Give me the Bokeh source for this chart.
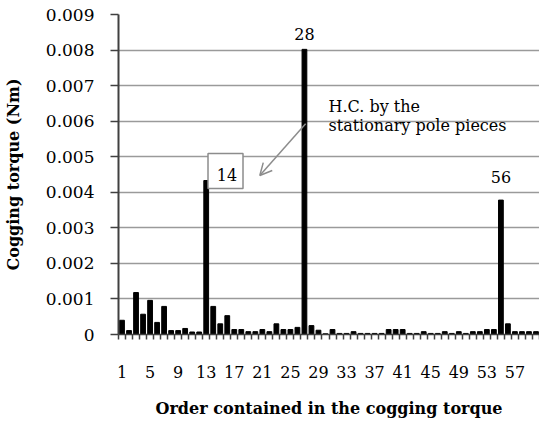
from bokeh.plotting import figure
from bokeh.models import FixedTicker, Range1d, Label, Arrow, OpenHead
from bokeh.embed import file_html
from bokeh.resources import INLINE

# ---- data ----
orders = list(range(1, 61))
torque = [
    0.00040, 0.00011, 0.00118, 0.00057, 0.00096, 0.00034, 0.00079, 0.00011, 0.00011, 0.00017,
    0.00007, 0.00007, 0.00433, 0.00079, 0.00030, 0.00053, 0.00014, 0.00014, 0.00008, 0.00008,
    0.00014, 0.00008, 0.00030, 0.00014, 0.00014, 0.00020, 0.00802, 0.00025, 0.00012, 0.00002,
    0.00014, 0.00003, 0.00003, 0.00008, 0.00003, 0.00003, 0.00003, 0.00003, 0.00014, 0.00014,
    0.00014, 0.00003, 0.00003, 0.00008, 0.00003, 0.00003, 0.00008, 0.00003, 0.00008, 0.00003,
    0.00008, 0.00008, 0.00014, 0.00014, 0.00378, 0.00030, 0.00008, 0.00008, 0.00008, 0.00008,
]
x_tick_values = [1, 5, 9, 13, 17, 21, 25, 29, 33, 37, 41, 45, 49, 53, 57]
x_tick_labels = ["1", "5", "9", "13", "17", "21", "25", "29", "33", "37", "41", "45", "49", "53", "57"]
y_tick_values = [0, 0.001, 0.002, 0.003, 0.004, 0.005, 0.006, 0.007, 0.008, 0.009]
y_tick_labels = ["0", "0.001", "0.002", "0.003", "0.004", "0.005", "0.006", "0.007", "0.008", "0.009"]
peak_labels = ["14", "28", "56"]

FONT = "DejaVu Serif"
AXIS_COL = "#404040"
GRID_COL = "#9a9a9a"

p = figure(width=539, height=423, x_range=Range1d(0.5, 60.5), y_range=Range1d(0, 0.009),
           output_backend="svg", toolbar_location=None,
           min_border_left=116, min_border_right=0, min_border_top=14, min_border_bottom=89)
p.outline_line_color = None
p.background_fill_color = "white"
p.border_fill_color = "white"

p.vbar(x=orders, top=torque, width=0.68, color="black")

# x axis
p.xaxis.ticker = FixedTicker(ticks=x_tick_values,
                             minor_ticks=[o - 0.5 for o in orders] + [orders[-1] + 0.5])
p.xaxis.major_label_overrides = dict(zip(x_tick_values, x_tick_labels))
p.xaxis.major_tick_out = 0
p.xaxis.major_tick_in = 0
p.xaxis.minor_tick_out = 5
p.xaxis.minor_tick_in = 0
p.xaxis.minor_tick_line_color = AXIS_COL
p.xaxis.minor_tick_line_width = 1.5
p.xaxis.axis_line_color = AXIS_COL
p.xaxis.axis_line_width = 1.5
p.xaxis.major_label_standoff = 26
p.xaxis.major_label_text_font = FONT
p.xaxis.major_label_text_font_size = "16px"
p.xaxis.major_label_text_color = "black"
p.xaxis.axis_label = "Order contained in the cogging torque"
p.xaxis.axis_label_text_font = FONT
p.xaxis.axis_label_text_font_style = "bold"
p.xaxis.axis_label_text_font_size = "16px"
p.xaxis.axis_label_text_color = "black"
p.xaxis.axis_label_standoff = 18

# y axis
p.yaxis.ticker = FixedTicker(ticks=y_tick_values, minor_ticks=[])
p.yaxis.major_label_overrides = dict(zip(y_tick_values, y_tick_labels))
p.yaxis.major_tick_out = 8
p.yaxis.major_tick_in = 0
p.yaxis.major_tick_line_color = AXIS_COL
p.yaxis.major_tick_line_width = 1.5
p.yaxis.minor_tick_line_color = None
p.yaxis.axis_line_color = AXIS_COL
p.yaxis.axis_line_width = 2
p.yaxis.major_label_standoff = 16
p.yaxis.major_label_text_font = FONT
p.yaxis.major_label_text_font_size = "17px"
p.yaxis.major_label_text_color = "black"
p.yaxis.axis_label = "Cogging torque (Nm)"
p.yaxis.axis_label_text_font = FONT
p.yaxis.axis_label_text_font_style = "bold"
p.yaxis.axis_label_text_font_size = "16px"
p.yaxis.axis_label_text_color = "black"
p.yaxis.axis_label_standoff = 20

p.xgrid.grid_line_color = None
p.ygrid.ticker = FixedTicker(ticks=y_tick_values[1:], minor_ticks=[])
p.ygrid.grid_line_color = GRID_COL
p.ygrid.grid_line_width = 1.5

# annotations
def lab(x, y, t, align="center"):
    p.add_layout(Label(x=x, y=y, text=t, text_font=FONT, text_font_size="16px",
                       text_color="black", text_align=align, text_baseline="middle"))

lab(27, 0.00844, peak_labels[1])
lab(55, 0.00444, peak_labels[2])
p.rect(x=[15.75], y=[0.0046], width=35, height=35, width_units="screen", height_units="screen",
       fill_color="white", line_color="#8c8c8c", line_width=1.5)
lab(15.95, 0.00450, peak_labels[0])
lab(30.43, 0.00641, "H.C. by the", align="left")
lab(30.43, 0.00588, "stationary pole pieces", align="left")
p.add_layout(Arrow(x_start=27.17, y_start=0.00593, x_end=20.64, y_end=0.00447,
                   line_color="#8c8c8c", line_width=1.5,
                   end=OpenHead(size=12, line_color="#8c8c8c", line_width=1.5)))

open("out.html", "w").write(file_html(p, INLINE))
